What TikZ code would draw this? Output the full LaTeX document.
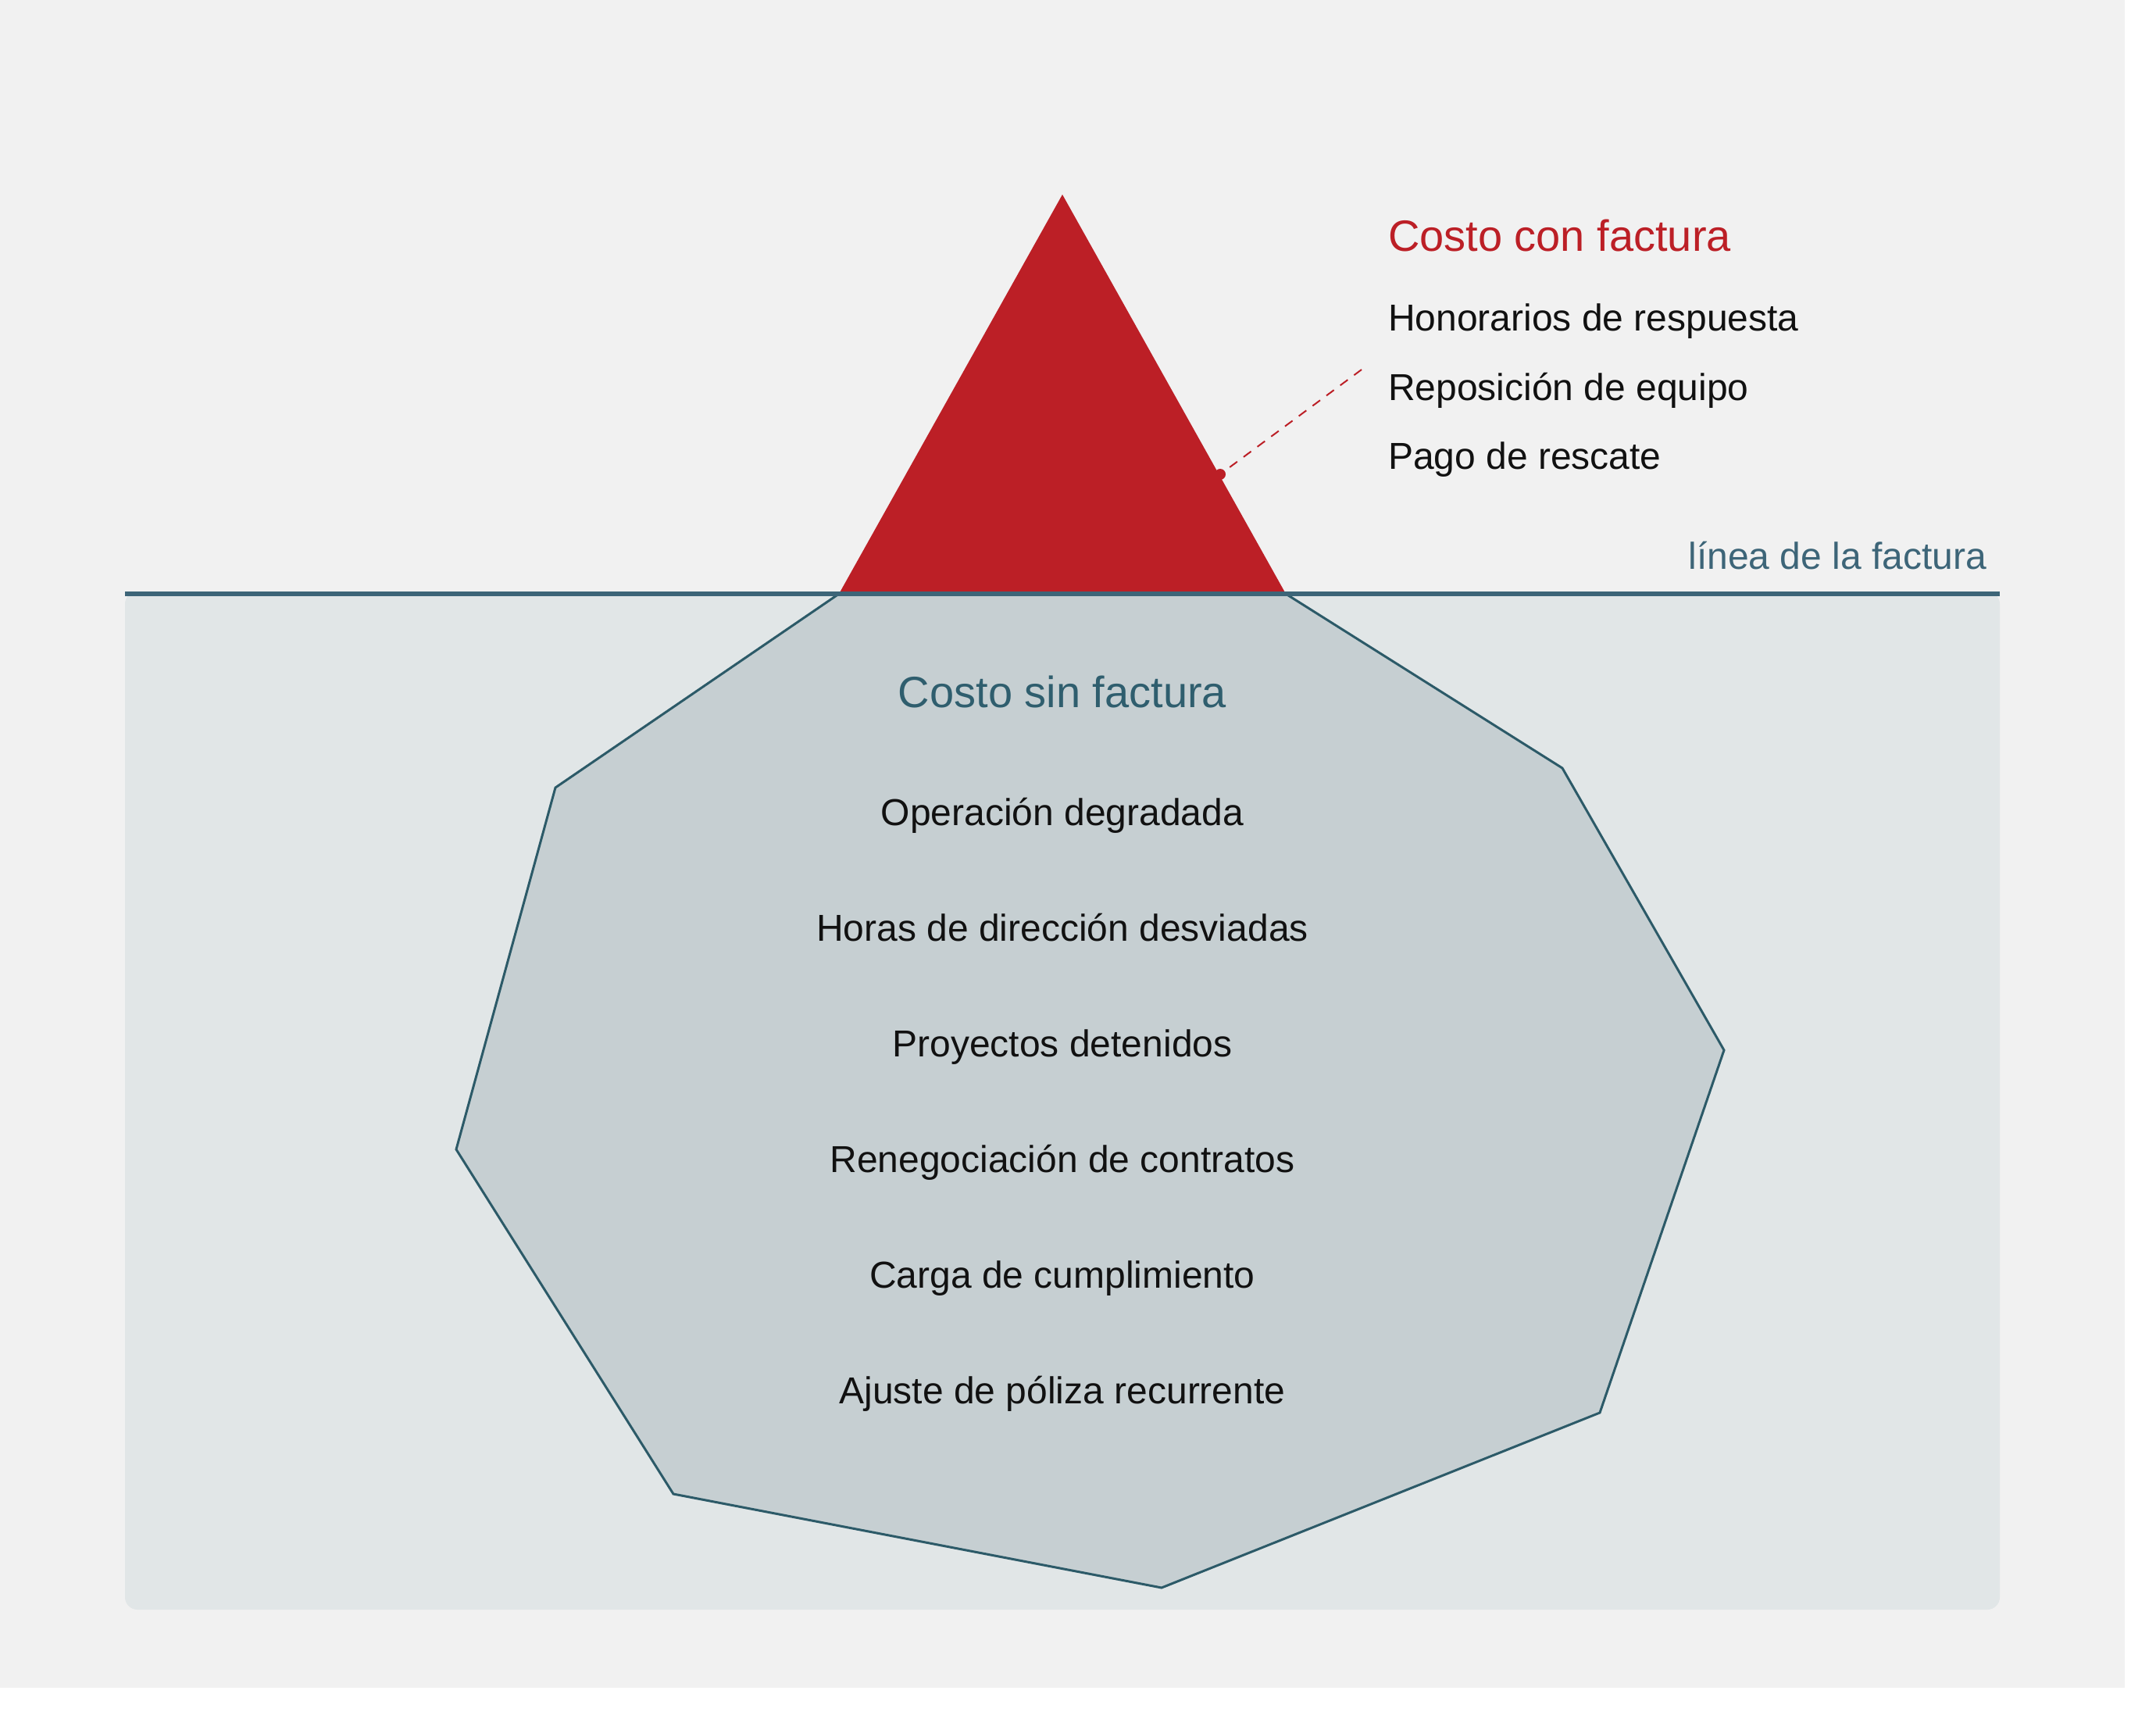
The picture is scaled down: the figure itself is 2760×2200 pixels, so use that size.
\documentclass[tikz,border=0pt]{standalone}
\usepackage{fontspec}
\setmainfont{Liberation Sans}
\definecolor{bgc}{HTML}{F1F1F1}
\definecolor{boxc}{HTML}{E1E6E7}
\definecolor{polyc}{HTML}{C6CFD2}
\definecolor{polyline}{HTML}{2C5A68}
\definecolor{waterline}{HTML}{3D6578}
\definecolor{redc}{HTML}{BC1F26}
\definecolor{tealtxt}{HTML}{2F5E6E}
\definecolor{inkc}{HTML}{111111}
\begin{document}
\begin{tikzpicture}[x=1pt,y=-1pt,
  txt/.style={inner sep=0pt, outer sep=0pt},
  item/.style={txt, font=\fontsize{48}{56}\selectfont, text=inkc, anchor=base west},
  subitem/.style={txt, font=\fontsize{48}{56}\selectfont, text=inkc, anchor=base},
  headred/.style={txt, font=\fontsize{56}{64}\selectfont, text=redc, anchor=base west},
  headteal/.style={txt, font=\fontsize{56}{64}\selectfont, text=tealtxt, anchor=base},
  linelbl/.style={txt, font=\fontsize{48}{56}\selectfont, text=waterline, anchor=base east},
  leader/.style={draw=redc, line width=2pt, dash pattern=on 12pt off 10pt}
]
\useasboundingbox (0,0) rectangle (2760,2200);
\fill[white] (0,0) rectangle (2760,2200);
\fill[bgc] (0,0) rectangle (2720,2160);
% underwater box
\fill[boxc, rounded corners=16pt] (160,757) rectangle (2560,2060);
% submerged polygon
\filldraw[fill=polyc, draw=polyline, line width=3pt, line join=miter]
  (1074,760) -- (711,1008) -- (584,1471) -- (862,1912) -- (1487,2032)
  -- (2048,1808) -- (2207,1344) -- (2000,983) -- (1646,760) -- cycle;
% visible tip
\fill[redc] (1360,249) -- (1646,760) -- (1074,760) -- cycle;
% water line
\coordinate (wl) at (160,760);
\coordinate (wr) at (2560,760);
\draw[waterline, line width=6pt] (wl) -- (wr);
\node[linelbl] (lineLabel) at (2543,728) {línea de la factura};
% above the line
\node[headred] (conHead) at (1777,321) {Costo con factura};
\node[item] (c1) at (1777,423) {Honorarios de respuesta};
\node[item] (c2) at (1777,512) {Reposición de equipo};
\node[item] (c3) at (1777,600) {Pago de rescate};
% leader
\coordinate (leadStart) at (1743,473);
\coordinate (leadEnd) at (1562,607);
\draw[leader] (leadStart) -- (leadEnd);
\fill[redc] (leadEnd) circle (7pt);
% below the line
\node[headteal] (sinHead) at (1360,905) {Costo sin factura};
\node[subitem] (s1) at (1360,1056) {Operación degradada};
\node[subitem] (s2) at (1360,1204) {Horas de dirección desviadas};
\node[subitem] (s3) at (1360,1352) {Proyectos detenidos};
\node[subitem] (s4) at (1360,1500) {Renegociación de contratos};
\node[subitem] (s5) at (1360,1648) {Carga de cumplimiento};
\node[subitem] (s6) at (1360,1796) {Ajuste de póliza recurrente};
\end{tikzpicture}
\end{document}
